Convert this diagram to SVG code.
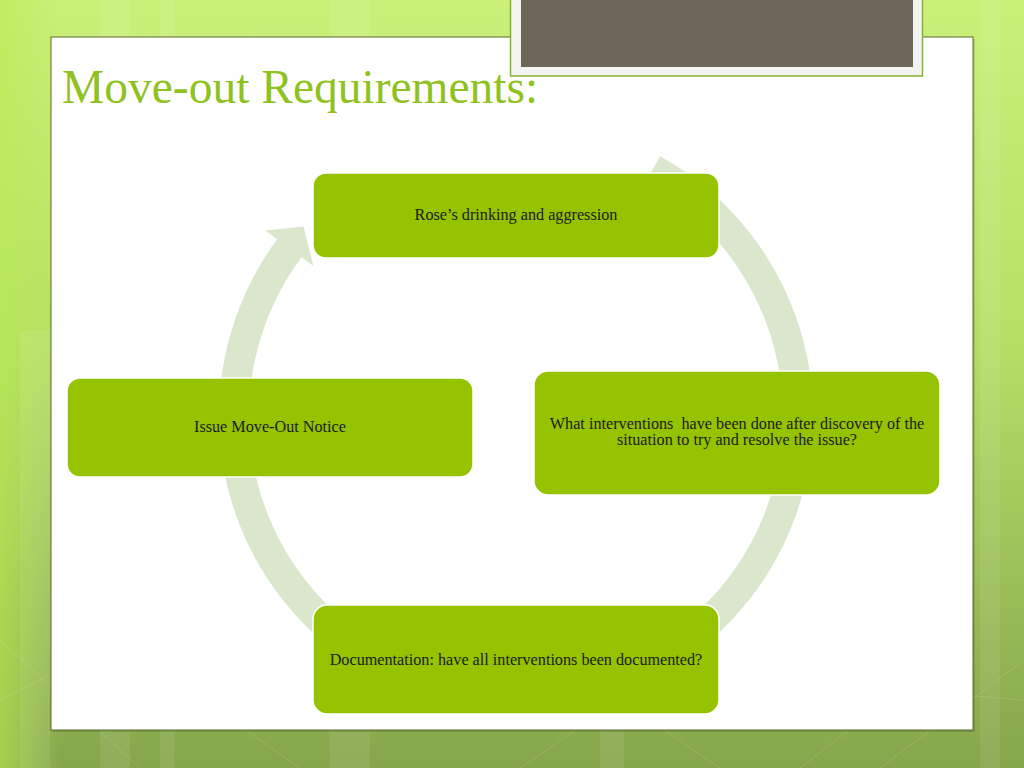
<svg xmlns="http://www.w3.org/2000/svg" width="1024" height="768" viewBox="0 0 1024 768">
  <defs>
    <linearGradient id="bg" x1="0" y1="0" x2="0" y2="1">
      <stop offset="0" stop-color="#caf07a"/>
      <stop offset="0.45" stop-color="#b4df66"/>
      <stop offset="0.75" stop-color="#9cbf58"/>
      <stop offset="1" stop-color="#86a64c"/>
    </linearGradient>
    <linearGradient id="side" x1="0" y1="0" x2="1" y2="0">
      <stop offset="0" stop-color="#b8ec50" stop-opacity="0.6"/>
      <stop offset="1" stop-color="#b8ec50" stop-opacity="0"/>
    </linearGradient>
    <style>
      .node rect { fill: #95c300; stroke: #ffffff; stroke-width: 1.5; }
      .node text { font-family: "Liberation Serif", "Times New Roman", serif; font-size: 16.2px; fill: #1c1c1c; text-anchor: middle; }
      .ring { fill: #dae7cc; }
      .stripe { fill: #ffffff; opacity: 0.08; }
      .tex { stroke: #ffffff; stroke-opacity: 0.12; stroke-width: 1; fill: none; }
    </style>
  </defs>

  <!-- background -->
  <rect x="0" y="0" width="1024" height="768" fill="url(#bg)"/>
  <rect x="0" y="0" width="60" height="768" fill="url(#side)"/>
  <rect class="stripe" x="100" y="0" width="30" height="768"/>
  <rect class="stripe" x="160" y="0" width="14" height="768"/>
  <rect class="stripe" x="330" y="0" width="40" height="768"/>
  <rect class="stripe" x="600" y="0" width="24" height="768"/>
  <rect class="stripe" x="980" y="0" width="20" height="768"/>
  <rect class="stripe" x="20" y="330" width="30" height="438"/>
  <path class="tex" d="M0 640 L140 768 M60 600 L300 768 M520 768 L620 700 L720 768 M800 768 L900 690 L1024 700 M0 700 L80 660 M880 768 L1024 660"/>

  <!-- slide panel -->
  <rect x="53" y="39" width="922" height="693" fill="#000000" opacity="0.12"/>
  <rect x="51" y="37" width="922" height="693" fill="#ffffff" stroke="#5b6b2e" stroke-width="1"/>

  <!-- picture frame at top -->
  <g id="picture">
    <rect x="510.5" y="-2" width="412" height="78" fill="#f3f3f1" stroke="#86b22c" stroke-width="1.5"/>
    <rect x="521" y="-2" width="392" height="69" fill="#6e6759"/>
  </g>

  <!-- title -->
  <text x="62" y="103" font-family="'Liberation Serif', 'Times New Roman', serif" font-size="47.5" fill="#8fc21f">Move-out Requirements:</text>

  <!-- connectors: circular arrow -->
  <g id="connectors">
    <path class="ring" d="M660.0 156.2 A297 297 0 1 1 277.2 239.3 L265.2 230.4 L303.5 226.5 L313.4 266.1 L301.4 257.2 A267 267 0 1 0 645.4 182.5 Z"/>
  </g>

  <!-- nodes -->
  <g id="node-rose" class="node">
    <rect x="313" y="173" width="406" height="85" rx="13" ry="13"/>
    <text x="516" y="220">Rose’s drinking and aggression</text>
  </g>
  <g id="node-interventions" class="node">
    <rect x="534" y="371" width="406" height="124" rx="14" ry="14"/>
    <text x="737" y="429" xml:space="preserve">What interventions  have been done after discovery of the</text>
    <text x="737" y="445">situation to try and resolve the issue?</text>
  </g>
  <g id="node-documentation" class="node">
    <rect x="313" y="605" width="406" height="109" rx="14" ry="14"/>
    <text x="516" y="665">Documentation: have all interventions been documented?</text>
  </g>
  <g id="node-notice" class="node">
    <rect x="67" y="378" width="406" height="99" rx="13" ry="13"/>
    <text x="270" y="432">Issue Move-Out Notice</text>
  </g>
</svg>
